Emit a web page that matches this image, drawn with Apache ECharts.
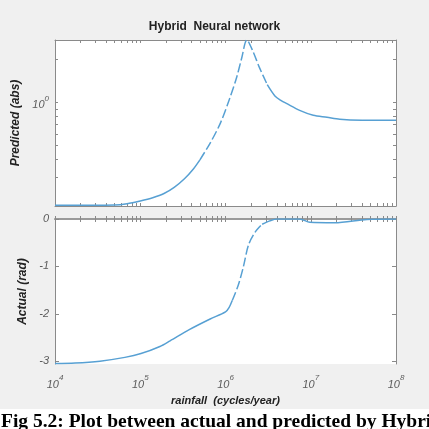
<!DOCTYPE html>
<html>
<head>
<meta charset="utf-8">
<script src="https://cdn.jsdelivr.net/npm/echarts@6/dist/echarts.min.js"></script>
<style>
html, body { margin: 0; padding: 0; background: #fff; }
#main { width: 429px; height: 429px; }
</style>
</head>
<body>
<div id="main"></div>
<script>
// upper panel: predicted (abs), log scale
var rainfallTop = [1e4, 5e4, 7e4, 1e5, 1.4e5, 1.9e5, 2.5e5, 3.3e5, 4.2e5, 5.01e5, 6.61e5, 8.71e5, 1.12e6, 1.35e6, 1.55e6, 1.78e6, 2.09e6, 2.51e6, 3.09e6, 3.8e6, 4.5e6, 5.25e6, 7.41e6, 1.07e7, 1.55e7, 2.19e7, 4e7, 1e8];
var predicted = [0.192, 0.193, 0.197, 0.206, 0.217, 0.232, 0.256, 0.294, 0.344, 0.398, 0.521, 0.717, 1.066, 1.49, 2.04, 2.72, 2.28, 1.74, 1.33, 1.11, 1.03, 0.98, 0.881, 0.814, 0.788, 0.763, 0.752, 0.751];

// lower panel: actual (rad)
var rainfallBottom = [1e4, 1.72e4, 3.37e4, 6.6e4, 1.02e5, 1.7e5, 2.24e5, 3.8e5, 6.61e5, 1e6, 1.1e6, 1.2e6, 1.41e6, 1.62e6, 1.86e6, 2.24e6, 2.69e6, 3.31e6, 3.98e6, 7.41e6, 9.77e6, 1.91e7, 4.57e7, 1e8];
var actual = [-3.05, -3.04, -3.0, -2.92, -2.84, -2.69, -2.57, -2.33, -2.11, -1.96, -1.87, -1.72, -1.40, -1.01, -0.55, -0.27, -0.11, -0.04, 0, 0, -0.07, -0.08, -0.01, 0];

var decades = [1e4, 1e5, 1e6, 1e7, 1e8];
var predictedLabels = [1];
var predictedTicks = [0.3, 0.4, 0.5, 0.6, 0.7, 0.8, 0.9, 1, 2];
var actualTicks = [0, -1, -2, -3];

var xMinor = [];
for (var k = 4; k < 8; k++) {
    for (var m = 1; m < 10; m++) {
        xMinor.push(m * Math.pow(10, k));
    }
}
xMinor.push(1e8);

function pairs(xs, ys, lo, hi) {
    var out = [];
    for (var i = 0; i < xs.length; i++) {
        if (xs[i] >= lo && xs[i] <= hi) out.push([xs[i], ys[i]]);
    }
    return out;
}

var lineColor = '#57a0d3';
var frameColor = '#8a8a8a';
var labelColor = '#5c5c5c';
var font = 'Liberation Sans';

var powRich = {
    b: {fontFamily: font, fontSize: 11, fontStyle: 'italic', color: labelColor, verticalAlign: 'bottom', lineHeight: 16},
    s: {fontFamily: font, fontSize: 8, fontStyle: 'italic', color: labelColor, verticalAlign: 'top', lineHeight: 16, padding: [0, 0, 6, 0]}
};
function powLabel(v) {
    var e = Math.round(Math.log10(v));
    return '{b|10}{s|' + e + '}';
}

function xAx(grid, pos, labels, lw, lc) {
    return {
        type: 'log', logBase: 10, gridIndex: grid, position: pos,
        min: 1e4, max: 1e8,
        axisLine: {show: true, lineStyle: {color: lc || frameColor, width: lw || 1}},
        axisTick: {show: true, inside: true, length: 3, customValues: xMinor, lineStyle: {color: frameColor}},
        axisLabel: {show: labels, customValues: decades, formatter: powLabel, rich: powRich, margin: 10},
        splitLine: {show: false}
    };
}

var series = [];
function addLine(xs, ys, lo, hi, xi, yi, dashed) {
    series.push({
        type: 'line', xAxisIndex: xi, yAxisIndex: yi,
        data: pairs(xs, ys, lo, hi),
        showSymbol: false, symbol: 'none',
        lineStyle: {color: lineColor, width: 1.5, type: dashed ? [9, 3] : 'solid'},
        smooth: 0.3, clip: true, animation: false
    });
}
addLine(rainfallTop, predicted, 1e4, 5.01e5, 0, 0, false);
addLine(rainfallTop, predicted, 5.01e5, 3.09e6, 0, 0, true);
addLine(rainfallTop, predicted, 3.09e6, 1e8, 0, 0, false);
addLine(rainfallBottom, actual, 1e4, 1.2e6, 2, 2, false);
addLine(rainfallBottom, actual, 1.2e6, 2.69e6, 2, 2, true);
addLine(rainfallBottom, actual, 2.69e6, 1e8, 2, 2, false);

var chart = echarts.init(document.getElementById('main'));
var option = {
    animation: false,
    backgroundColor: '#ffffff',
    title: {
        text: 'Hybrid  Neural network',
        left: 'center', top: 16,
        textStyle: {fontFamily: font, fontSize: 12, fontWeight: 'bold', color: '#222'}
    },
    graphic: [
        {type: 'rect', z: -10, shape: {x: 0, y: 0, width: 429, height: 409}, style: {fill: '#f0f0f0'}},
        {type: 'text', left: 1, top: 412, style: {text: 'Fig 5.2: Plot between actual and predicted by Hybrid Neural network',
            font: 'bold 19.5px "Liberation Serif"', fill: '#000'}}
    ],
    grid: [
        {left: 55, top: 40, width: 341, height: 166, show: true, backgroundColor: '#fff', borderWidth: 0},
        {left: 55, top: 219, width: 341, height: 145, show: true, backgroundColor: '#fff', borderWidth: 0}
    ],
    xAxis: [
        xAx(0, 'bottom', false),
        xAx(0, 'top', false),
        Object.assign(xAx(1, 'bottom', true), {
            name: 'rainfall  (cycles/year)', nameLocation: 'middle', nameGap: 31,
            nameTextStyle: {fontFamily: font, fontSize: 11, fontWeight: 'bold', fontStyle: 'italic', color: '#222'}
        }),
        xAx(1, 'top', false, 2, '#9a9a9a')
    ],
    yAxis: [
        {
            type: 'log', logBase: 10, gridIndex: 0, position: 'left',
            min: 0.19, max: 2.72,
            name: 'Predicted (abs)', nameLocation: 'middle', nameGap: 24,
            nameTextStyle: {fontFamily: font, fontSize: 12, fontWeight: 'bold', fontStyle: 'italic', color: '#222'},
            axisLine: {show: true, lineStyle: {color: frameColor}},
            axisTick: {show: true, inside: true, length: 3, customValues: predictedTicks, lineStyle: {color: frameColor}},
            axisLabel: {customValues: predictedLabels, formatter: powLabel, rich: powRich, margin: 6},
            splitLine: {show: false}
        },
        {
            type: 'log', logBase: 10, gridIndex: 0, position: 'right',
            min: 0.19, max: 2.72,
            axisLine: {show: true, lineStyle: {color: frameColor}},
            axisTick: {show: true, inside: true, length: 3, customValues: predictedTicks, lineStyle: {color: frameColor}},
            axisLabel: {show: false},
            splitLine: {show: false}
        },
        {
            type: 'value', gridIndex: 1, position: 'left',
            min: -3.06, max: 0,
            name: 'Actual (rad)', nameLocation: 'middle', nameGap: 17,
            nameTextStyle: {fontFamily: font, fontSize: 12, fontWeight: 'bold', fontStyle: 'italic', color: '#222'},
            axisLine: {show: true, lineStyle: {color: frameColor}},
            axisTick: {show: true, inside: true, length: 4, customValues: actualTicks, lineStyle: {color: frameColor}},
            axisLabel: {customValues: actualTicks, fontFamily: font, fontSize: 11, fontStyle: 'italic', color: labelColor, margin: 6},
            splitLine: {show: false}
        },
        {
            type: 'value', gridIndex: 1, position: 'right',
            min: -3.06, max: 0,
            axisLine: {show: true, lineStyle: {color: frameColor}},
            axisTick: {show: true, inside: true, length: 4, customValues: actualTicks, lineStyle: {color: frameColor}},
            axisLabel: {show: false},
            splitLine: {show: false}
        }
    ],
    series: series
};
chart.setOption(option);
window.onresize = chart.resize;
</script>
</body>
</html>
